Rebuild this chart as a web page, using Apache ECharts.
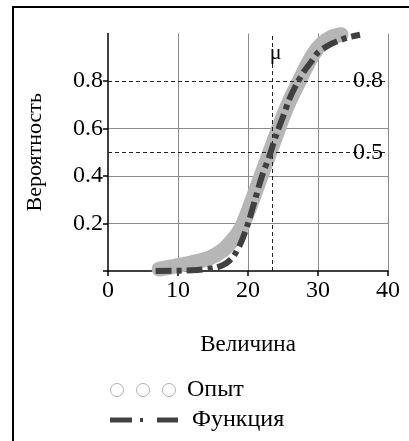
<!DOCTYPE html>
<html>
<head>
<meta charset="utf-8">
<script src="https://cdn.jsdelivr.net/npm/echarts@6/dist/echarts.min.js"></script>
<style>
  html, body { margin: 0; padding: 0; background: #fff; }
  #chart { width: 409px; height: 441px; }
</style>
</head>
<body>
<div id="chart"></div>
<script>
// Experimental cumulative frequencies ("Опыт")
const expX = [7.3, 9.5, 12.0, 14.5, 16.3, 17.8, 19.0, 20.0, 21.0, 22.0, 23.0, 24.0, 25.0, 26.0, 27.0, 28.5, 29.5, 30.5, 32.0, 33.3];
const expY = [0.008, 0.02, 0.035, 0.055, 0.085, 0.13, 0.18, 0.25, 0.33, 0.41, 0.49, 0.57, 0.65, 0.72, 0.78, 0.87, 0.92, 0.955, 0.985, 0.995];

// Distribution function ("Функция")
const funcX = [6.8, 12.0, 15.5, 17.0, 18.0, 19.0, 20.0, 21.0, 22.0, 23.0, 24.0, 25.0, 26.0, 27.0, 28.0, 29.0, 30.0, 31.5, 33.0, 34.5, 36.0];
const funcY = [0.0, 0.003, 0.015, 0.035, 0.065, 0.12, 0.2, 0.3, 0.4, 0.48, 0.57, 0.65, 0.73, 0.79, 0.84, 0.88, 0.92, 0.95, 0.97, 0.985, 0.995];

// Mean and reference probability levels
const mu = 23.4;
const refLevels = [0.8, 0.5];

// Axis ticks
const xTicks = [0, 10, 20, 30, 40];
const yTicks = [0, 0.2, 0.4, 0.6, 0.8];
const yTickLabels = [0.2, 0.4, 0.6, 0.8];

const FONT = 'Liberation Serif';
const zip = (xs, ys) => xs.map((x, i) => [x, ys[i]]);

const chart = echarts.init(document.getElementById('chart'), null, { renderer: 'canvas' });

const circlesIcon = 'path://M0,6.5A6.5,6.5 0 1,0 13,6.5A6.5,6.5 0 1,0 0,6.5Z' +
  'M26,6.5A6.5,6.5 0 1,0 39,6.5A6.5,6.5 0 1,0 26,6.5Z' +
  'M52,6.5A6.5,6.5 0 1,0 65,6.5A6.5,6.5 0 1,0 52,6.5Z';
const dashDotIcon = 'path://M0,0L22,0L22,5L0,5Z M30,0.5L33,0.5L33,4.5L30,4.5Z M47,0L68,0L68,5L47,5Z';

chart.setOption({
  animation: false,
  backgroundColor: '#fff',
  textStyle: { fontFamily: FONT, color: '#000' },
  graphic: [{
    type: 'rect',
    shape: { x: 13, y: 7, width: 480, height: 520 },
    style: { fill: 'none', stroke: '#000', lineWidth: 2 },
    silent: true
  }],
  grid: { left: 108, top: 33.5, width: 280, height: 237.5, containLabel: false },
  legend: [
    {
      left: 110, top: 378, padding: 0,
      itemWidth: 78, itemHeight: 13,
      textStyle: { fontFamily: FONT, fontSize: 24, color: '#000' },
      selectedMode: false,
      data: [{
        name: 'Опыт', icon: circlesIcon,
        itemStyle: { color: 'transparent', borderColor: '#b0b0b0', borderWidth: 1 }
      }]
    },
    {
      left: 110, top: 408, padding: 0,
      itemWidth: 86, itemHeight: 5,
      textStyle: { fontFamily: FONT, fontSize: 24, color: '#000' },
      selectedMode: false,
      data: [{
        name: 'Функция', icon: dashDotIcon,
        itemStyle: { color: '#404040', borderWidth: 0 }
      }]
    }
  ],
  xAxis: {
    type: 'value', min: xTicks[0], max: xTicks[xTicks.length - 1], interval: 10,
    name: 'Величина', nameLocation: 'middle', nameGap: 62,
    nameTextStyle: { fontFamily: FONT, fontSize: 23, color: '#000' },
    axisLine: { show: true, onZero: false, lineStyle: { color: '#000', width: 1.5 } },
    axisTick: { show: true, length: 5, lineStyle: { color: '#000', width: 1.5 } },
    axisLabel: { fontFamily: FONT, fontSize: 24, color: '#000', margin: 8 },
    splitLine: { show: true, showMinLine: false, showMaxLine: true, lineStyle: { color: '#8c8c8c', width: 1 } }
  },
  yAxis: {
    type: 'value', min: 0, max: 1, interval: 0.2,
    name: 'Вероятность', nameLocation: 'middle', nameGap: 62, nameRotate: 90,
    nameTextStyle: { fontFamily: FONT, fontSize: 22, color: '#000' },
    axisLine: { show: true, onZero: false, lineStyle: { color: '#000', width: 1.5 } },
    axisTick: { show: true, length: 5, customValues: yTicks, lineStyle: { color: '#000', width: 1.5 } },
    axisLabel: { fontFamily: FONT, fontSize: 24, color: '#000', margin: 5, customValues: yTickLabels },
    splitLine: { show: true, showMinLine: false, showMaxLine: false, lineStyle: { color: '#8c8c8c', width: 1 } }
  },
  series: [
    {
      name: 'Опыт', type: 'line', data: zip(expX, expY),
      showSymbol: false, smooth: 0.3, clip: true, z: 2, silent: true,
      itemStyle: { color: '#b6b6b6' },
      lineStyle: { color: '#b6b6b6', width: 15, cap: 'round', join: 'round' }
    },
    {
      name: 'Функция', type: 'line', data: zip(funcX, funcY),
      showSymbol: false, smooth: 0.3, clip: true, z: 4, silent: true,
      itemStyle: { color: '#404040' },
      lineStyle: { color: '#404040', width: 6, type: [16, 5, 5, 5], cap: 'butt' },
      markLine: {
        silent: true, symbol: ['none', 'none'], z: 3,
        lineStyle: { color: '#222', width: 1, type: [4, 3] },
        label: { show: false },
        data: [
          ...refLevels.map(v => ({
            yAxis: v,
            label: { show: true, position: 'insideEnd', distance: 5, formatter: String(v),
                     fontFamily: FONT, fontSize: 24, color: '#000' }
          })),
          { xAxis: mu, label: { show: false } }
        ]
      },
      markPoint: {
        silent: true,
        data: [{
          coord: [mu, 0.915], symbol: 'circle', symbolSize: 0,
          label: { show: true, position: 'right', distance: -2, formatter: 'μ',
                   fontFamily: FONT, fontSize: 22, color: '#000' }
        }]
      }
    }
  ]
});
</script>
</body>
</html>
